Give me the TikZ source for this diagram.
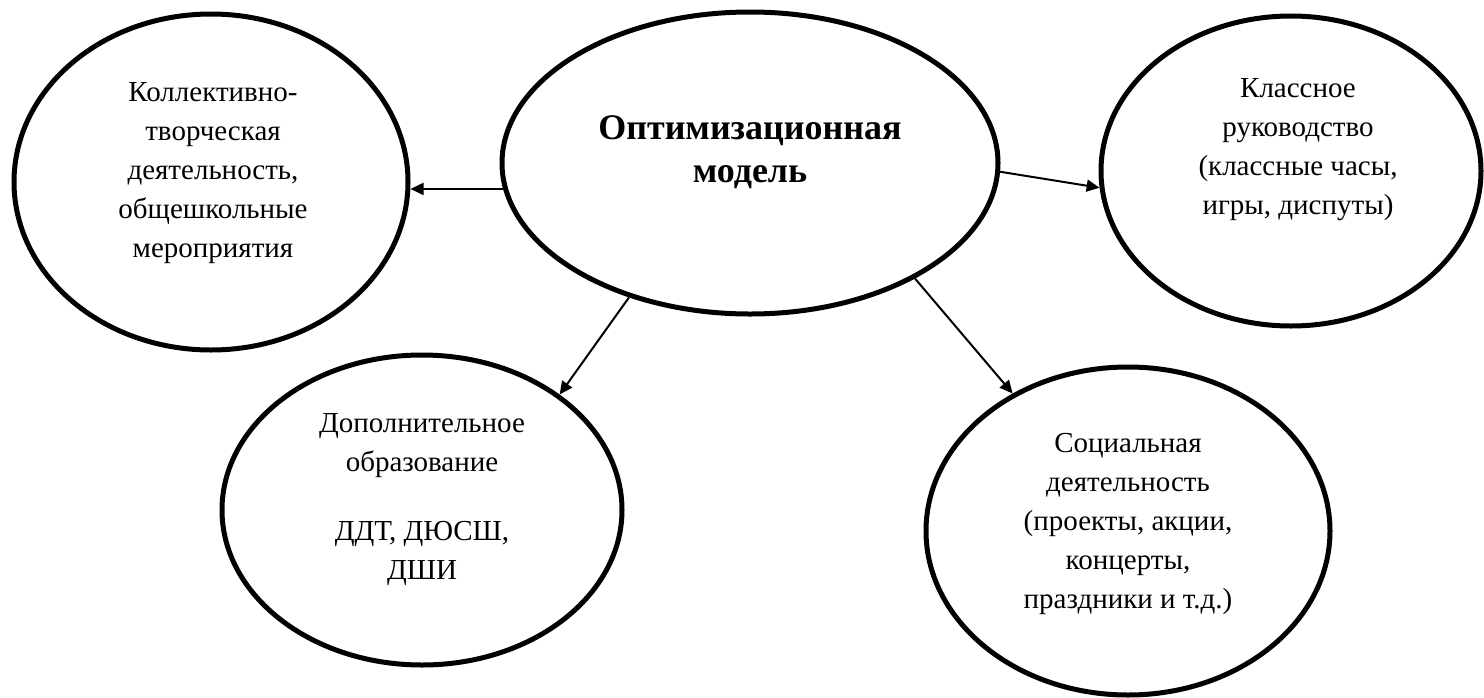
\documentclass[tikz,border=0pt]{standalone}
\usepackage{fontspec}
\setmainfont{Liberation Serif}
\usetikzlibrary{arrows.meta, positioning, shapes.geometric}

\begin{document}
\begin{tikzpicture}[
x=0.5pt, y=-0.5pt,
oval/.style={draw, ellipse, line width=2.5pt, inner sep=0pt},
txt/.style={align=center, font=\fontsize{14.5}{19.5}\selectfont},
arr/.style={-{Triangle[length=6.5pt, width=6pt]}, line width=1pt}
]
\useasboundingbox (0,0) rectangle (1484,697);

% ellipses
\node[oval, minimum width=248pt, minimum height=151pt] (opt) at (750,163) {};
\node[oval, minimum width=197pt, minimum height=168pt] (ktd) at (211,182) {};
\node[oval, minimum width=190pt, minimum height=155pt] (kr) at (1291,171) {};
\node[oval, minimum width=200pt, minimum height=155pt] (dop) at (422,510) {};
\node[oval, minimum width=202pt, minimum height=164pt] (soc) at (1128,531) {};

% texts
\node[txt, font=\fontsize{18}{21.5}\selectfont\bfseries] (opt-t) at (750,152) {Оптимизационная\\модель};
\node[txt] (ktd-t) at (213,173) {Коллективно-\\творческая\\деятельность,\\общешкольные\\мероприятия};
\node[txt] (kr-t) at (1298,150) {Классное\\руководство\\(классные часы,\\игры, диспуты)};
\node[txt] (dop-t) at (422,500) {Дополнительное\\образование\\[15pt]ДДТ, ДЮСШ,\\ДШИ};
\node[txt] (soc-t) at (1128,524) {Социальная\\деятельность\\(проекты, акции,\\концерты,\\праздники и т.д.)};

\draw[arr] (opt.186) -- (opt.186 -| ktd.east);
\draw[arr] (opt.358) -- (kr.185);
\draw[arr] (opt.228) -- (dop.40);
\draw[arr] (opt.325) -- (soc.130);
\end{tikzpicture}
\end{document}
